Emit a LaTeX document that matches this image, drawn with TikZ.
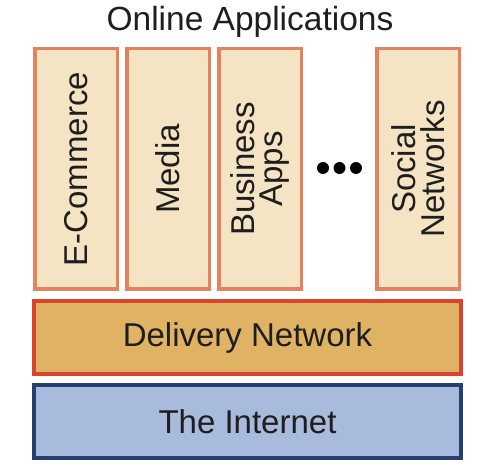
\documentclass[tikz,border=0pt]{standalone}
\usepackage{fontspec}
\setmainfont{Liberation Sans}
\definecolor{appfill}{HTML}{F5E4C3}
\definecolor{appline}{HTML}{E4825F}
\definecolor{delfill}{HTML}{E0B264}
\definecolor{delline}{HTML}{D9452C}
\definecolor{netfill}{HTML}{A9BBDC}
\definecolor{netline}{HTML}{263F72}
\definecolor{txt}{HTML}{1E1E1E}
\tikzset{
  appbox/.style={draw=appline, fill=appfill, line width=3.5pt, minimum width=82.5pt, minimum height=240.5pt, inner sep=0pt, text=txt},
  apptext/.style={rotate=90, align=center, font=\fontsize{33}{28.5}\selectfont, text=txt, inner sep=0pt},
  layer/.style={line width=4pt, minimum width=427pt, minimum height=73pt, inner sep=0pt, font=\fontsize{33}{36}\selectfont, text=txt},
  dot/.style={circle, fill=black, minimum size=12pt, inner sep=0pt}
}
\begin{document}
\begin{tikzpicture}[x=1pt,y=-1pt]
\useasboundingbox (0,0) rectangle (480,473);
\node[font=\fontsize{33.5}{36}\selectfont, text=txt] (title) at (250,22) {Online Applications};
\node[appbox] (ecom) at (76,169) {};
\node[apptext] (ecomt) at (ecom.center) {E-Commerce};
\node[appbox] (media) at (168,169) {};
\node[apptext] (mediat) at (media.center) {Media};
\node[appbox] (biz) at (260,169) {};
\node[apptext] (bizt) at (biz.center) {Business\\Apps};
\node[appbox] (soc) at (418,169) {};
\node[apptext] (soct) at (soc.center) {Social\\Networks};
\node[dot] (d1) at (323,168) {};
\node[dot] (d2) at (339.5,168) {};
\node[dot] (d3) at (356,168) {};
\node[layer, draw=delline, fill=delfill] (del) at (247.5,337.5) {Delivery Network};
\node[layer, draw=netline, fill=netfill] (net) at (247.5,422) {The Internet};
\end{tikzpicture}
\end{document}
